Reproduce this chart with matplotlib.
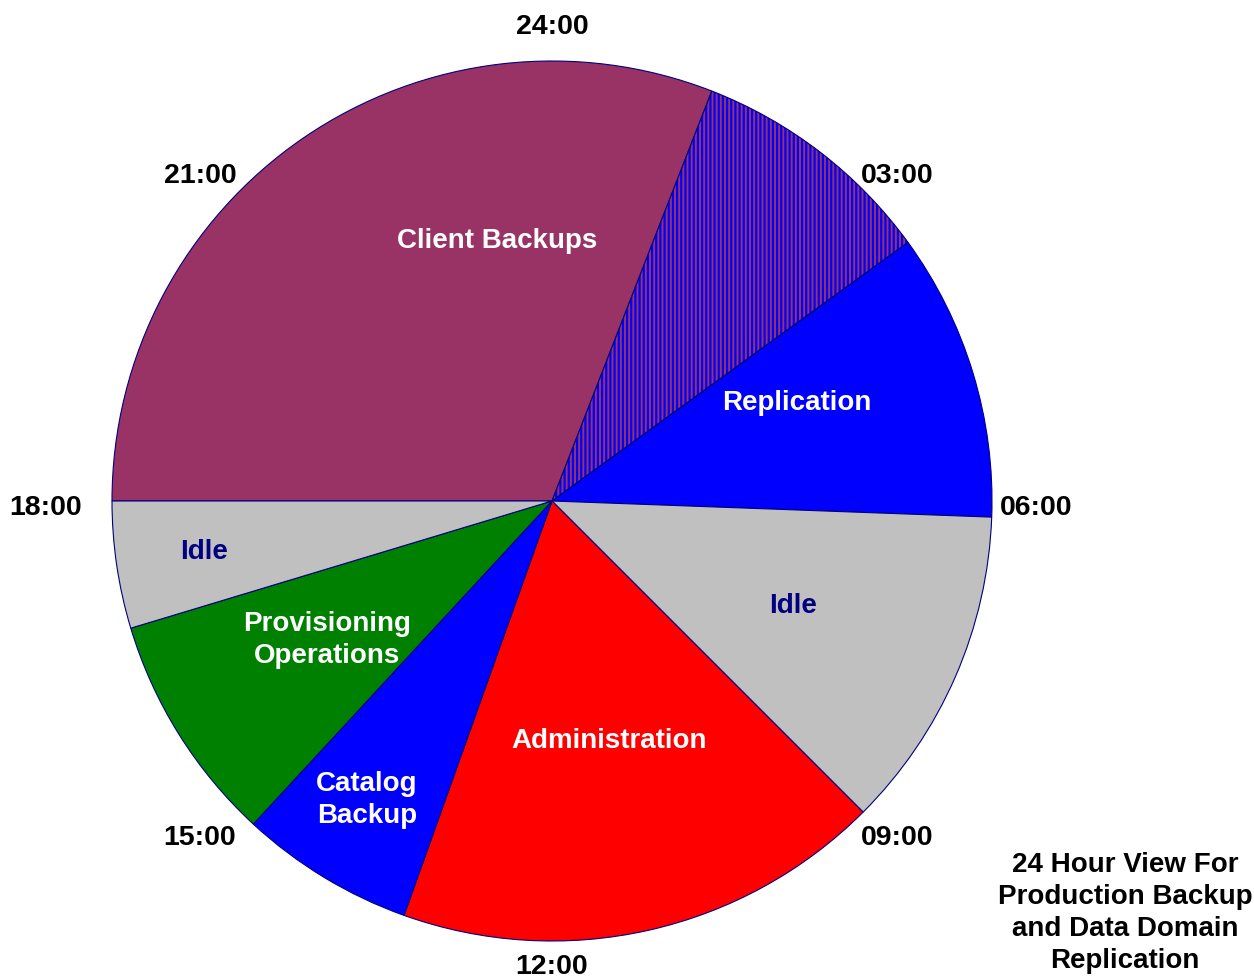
import matplotlib
matplotlib.use('Agg')
import matplotlib.pyplot as plt
from matplotlib.patches import Wedge

# hours of the day, clockwise starting at 18:00
labels = ['Client Backups', '', 'Replication', 'Idle', 'Administration',
          'Catalog\nBackup', 'Provisioning\nOperations', 'Idle']
hours = [7.42, 2.18, 2.54, 2.86, 4.31, 1.54, 2.03, 1.12]
colors = ['#993366', '#993366', '#0000FF', '#C0C0C0', '#FF0000',
          '#0000FF', '#008000', '#C0C0C0']
text_colors = ['white', 'white', 'white', '#000080', 'white',
               'white', 'white', '#000080']
clock_labels = ['24:00', '03:00', '06:00', '09:00', '12:00', '15:00', '18:00', '21:00']
title = '24 Hour View For\nProduction Backup\nand Data Domain\nReplication'

plt.rcParams['font.family'] = ['Liberation Sans', 'DejaVu Sans']
plt.rcParams['font.weight'] = 'bold'
plt.rcParams['hatch.linewidth'] = 1.6

W, H = 1254, 979
fig = plt.figure(figsize=(W / 100, H / 100), dpi=100)
ax = fig.add_axes([0, 0, 1, 1])

cx, cy, r = 552, H - 502, 440
wedges, _ = ax.pie(hours, colors=colors, center=(cx, cy), radius=r,
                   startangle=180, counterclock=False,
                   wedgeprops=dict(edgecolor='#000080', linewidth=0.8))

# hatched part of the client backups (overlap with replication)
hw = wedges[1]
hw.set_edgecolor('#0000FF')
hw.set_linewidth(0)
hw.set_hatch('||||')
ax.add_patch(Wedge((cx, cy), r, hw.theta1, hw.theta2, fill=False,
                   edgecolor='#000080', linewidth=0.8))

# slice label positions (pixel coords from top-left)
label_pos = [(497, 241), None, (797, 403), (793, 606), (609, 741),
             (367, 800), (327, 640), (204, 552)]
for lab, pos, tc in zip(labels, label_pos, text_colors):
    if pos is None:
        continue
    ax.text(pos[0], H - pos[1], lab, ha='center', va='center',
            color=tc, fontsize=20, fontweight='bold', linespacing=1.3)

# clock labels around the pie (pixel coords from top-left)
clock_pos = [(552, 27), (897, 176), (1036, 508), (897, 838),
             (552, 967), (200, 838), (46, 508), (200, 176)]
for cl, pos in zip(clock_labels, clock_pos):
    ax.text(pos[0], H - pos[1], cl, ha='center', va='center',
            fontsize=20.5, fontweight='bold', color='black')

ax.text(1125, H - 913, title, ha='center', va='center', fontsize=20,
        fontweight='bold', linespacing=1.3)

ax.set_xlim(0, W)
ax.set_ylim(0, H)
ax.set_aspect('equal')
ax.axis('off')

fig.savefig('out.png', dpi=100)
